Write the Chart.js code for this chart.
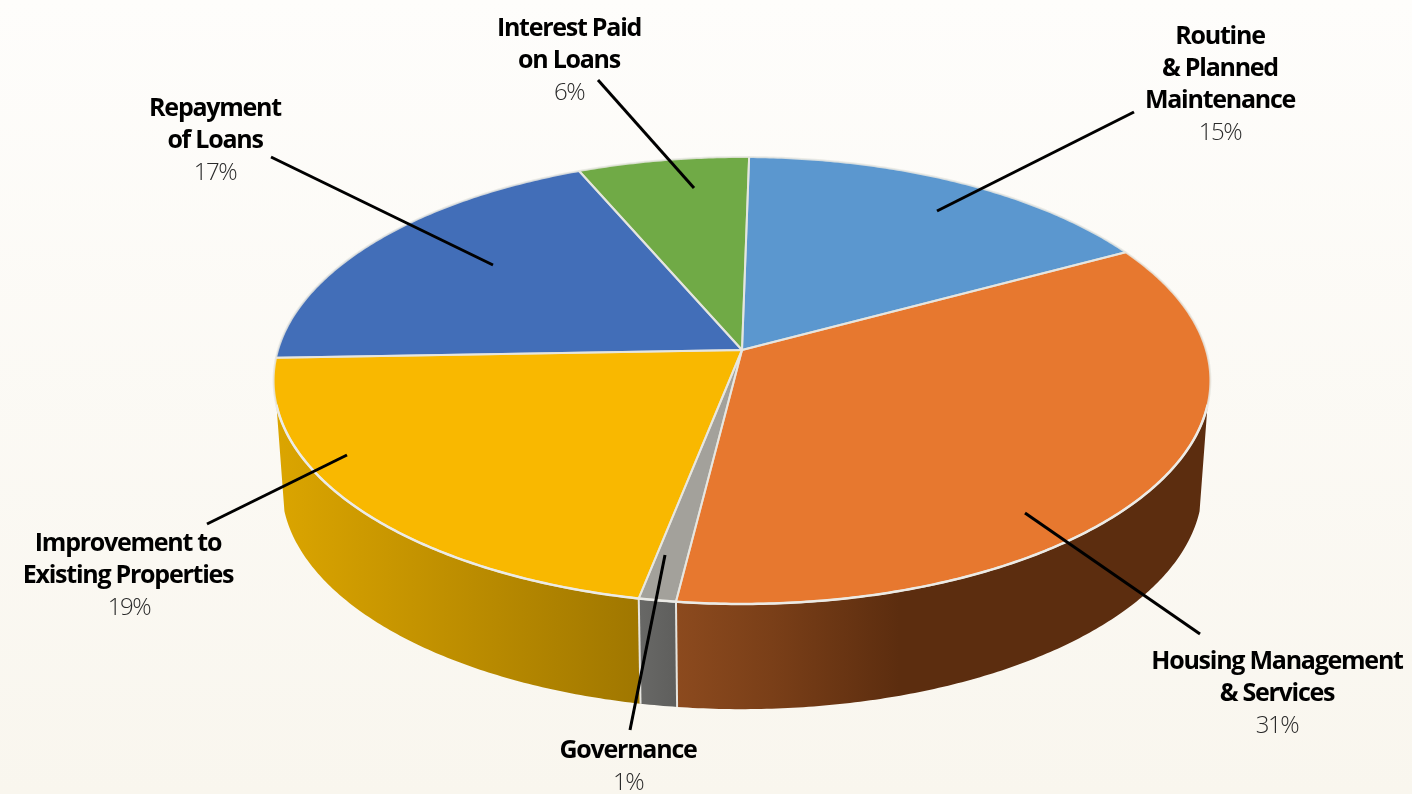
<!DOCTYPE html>
<html>
<head>
<meta charset="utf-8">
<title>Expenditure</title>
<script src="https://cdn.jsdelivr.net/npm/chart.js@4/dist/chart.umd.js"></script>
<style>
    html, body { margin: 0; padding: 0; width: 1412px; height: 794px; overflow: hidden; }
    body { background: linear-gradient(#fefdfb, #f9f6ee); }
    canvas { display: block; }
</style>
</head>
<body>
<canvas id="graficoPizza" width="1412" height="794"></canvas>
<script>
const categories = ['Routine & Planned Maintenance', 'Housing Management & Services', 'Governance',
    'Improvement to Existing Properties', 'Repayment of Loans', 'Interest Paid on Loans'];
const percentages = [15, 31, 1, 19, 17, 6];
const topColors = ['#5b97cf', '#e7782f', '#a3a19b', '#f9b800', '#426eb8', '#70aa46'];

// wall shades, left edge of the wall to right edge
const wallColors = [
    ['#5c2d0f', '#5c2d0f'],
    [[0, '#8c4a1e'], [0.18, '#7a3f18'], [0.42, '#5c2d0f'], [1, '#5c2d0f']],
    ['#686866', '#5f5f5d'],
    ['#dba500', '#a07700'],
    ['#426eb8', '#426eb8'],
    ['#70aa46', '#70aa46']
];

// label lines, x centre, first baseline
const labelLines = [
    ['Routine', '& Planned', 'Maintenance'],
    ['Housing Management', '& Services'],
    ['Governance'],
    ['Improvement to', 'Existing Properties'],
    ['Repayment', 'of Loans'],
    ['Interest Paid', 'on Loans']
];
const labelX = [1220, 1277, 628, 128, 215, 569];
const labelY = [44, 668.5, 758, 551, 116, 36];

// leader lines: x1, y1, x2, y2
const leaders = [
    [1134, 112, 937, 211],
    [1200, 634, 1025, 513],
    [630, 730, 665, 555],
    [207, 524, 347, 455],
    [271, 157, 493, 265],
    [598, 80, 694, 188]
];

// perspective of the disc: k tilts it, top face and lower rim have their own size
const k = -0.1365;
const faceTop = { cx: 742, cy: 350, a: 464, b: 219.3 };
const faceBottom = { cx: 742, cy: 456.7, a: 456, b: 218 };
const wallFrom = 104 * Math.PI / 180;
const wallTo = 256 * Math.PI / 180;

function projeta(face, ang) {
    // ang comes from the arc element, measured from 3 o'clock
    const t = ang + Math.PI / 2;
    const u = Math.sin(t);
    const v = -Math.cos(t);
    const d = 1 + k * v;
    return { x: face.cx + face.a * u / d, y: face.cy + face.b * v / d };
}

function traca(ctx, face, a0, a1, first) {
    const n = Math.max(2, Math.ceil(Math.abs(a1 - a0) / 0.01));
    for (let i = 0; i <= n; i++) {
        const p = projeta(face, a0 + (a1 - a0) * i / n);
        if (i === 0 && first) ctx.moveTo(p.x, p.y);
        else ctx.lineTo(p.x, p.y);
    }
}

const disco3d = {
    id: 'disco3d',
    beforeDatasetsDraw(chart) {
        const ctx = chart.ctx;
        const arcs = chart.getDatasetMeta(0).data;
        const from = wallFrom - Math.PI / 2;
        const to = wallTo - Math.PI / 2;
        ctx.save();
        ctx.lineJoin = 'round';

        // side wall of each slice that faces front
        arcs.forEach((arc, i) => {
            const a0 = Math.max(arc.startAngle, from);
            const a1 = Math.min(arc.endAngle, to);
            if (a1 <= a0) return;
            const pStart = projeta(faceTop, a0);
            const pEnd = projeta(faceTop, a1);
            const x0 = Math.min(pStart.x, pEnd.x);
            const x1 = Math.max(pStart.x, pEnd.x);
            const grad = ctx.createLinearGradient(x0, 0, x1, 0);
            const stops = wallColors[i];
            if (Array.isArray(stops[0])) stops.forEach(s => grad.addColorStop(s[0], s[1]));
            else { grad.addColorStop(0, stops[0]); grad.addColorStop(1, stops[1]); }

            ctx.beginPath();
            traca(ctx, faceTop, a0, a1, true);
            traca(ctx, faceBottom, a1, a0, false);
            ctx.closePath();
            ctx.fillStyle = grad;
            ctx.fill();

            // light seams between the front walls
            ctx.strokeStyle = '#e6e5e0';
            ctx.lineWidth = 2;
            if (a0 > from) {
                const b = projeta(faceBottom, a0);
                ctx.beginPath();
                ctx.moveTo(pStart.x, pStart.y);
                ctx.lineTo(b.x, b.y);
                ctx.stroke();
            }
        });

        // top faces
        arcs.forEach(arc => {
            ctx.beginPath();
            ctx.moveTo(faceTop.cx, faceTop.cy);
            traca(ctx, faceTop, arc.startAngle, arc.endAngle, false);
            ctx.closePath();
            ctx.fillStyle = arc.options.backgroundColor;
            ctx.fill();
        });
        arcs.forEach(arc => {
            ctx.beginPath();
            ctx.moveTo(faceTop.cx, faceTop.cy);
            traca(ctx, faceTop, arc.startAngle, arc.endAngle, false);
            ctx.closePath();
            ctx.strokeStyle = 'rgba(232,231,226,0.85)';
            ctx.lineWidth = 2;
            ctx.stroke();
        });

        // brighter rim along the front
        ctx.beginPath();
        traca(ctx, faceTop, from, to, true);
        ctx.strokeStyle = '#ecebe6';
        ctx.lineWidth = 2.5;
        ctx.stroke();
        ctx.restore();
        return false;
    },
    afterDraw(chart) {
        const ctx = chart.ctx;
        ctx.save();
        ctx.strokeStyle = '#000';
        ctx.lineWidth = 3;
        leaders.forEach(l => {
            ctx.beginPath();
            ctx.moveTo(l[0], l[1]);
            ctx.lineTo(l[2], l[3]);
            ctx.stroke();
        });

        ctx.textAlign = 'center';
        ctx.textBaseline = 'alphabetic';
        labelLines.forEach((lines, i) => {
            ctx.font = 'bold 25px "Open Sans"';
            ctx.letterSpacing = '-1.25px';
            ctx.fillStyle = '#000';
            lines.forEach((txt, j) => ctx.fillText(txt, labelX[i], labelY[i] + j * 32));
            ctx.font = '300 24px "Open Sans"';
            ctx.letterSpacing = '-1.5px';
            ctx.fillStyle = '#2a2a2a';
            ctx.fillText(percentages[i] + '%', labelX[i] + (i === 3 ? 1 : 0), labelY[i] + lines.length * 32);
        });
        ctx.restore();
    }
};

new Chart(document.getElementById('graficoPizza').getContext('2d'), {
    type: 'pie',
    data: {
        labels: categories,
        datasets: [{
            data: percentages,
            backgroundColor: topColors,
            borderWidth: 0
        }]
    },
    options: {
        responsive: false,
        animation: false,
        rotation: 1,
        plugins: {
            legend: { display: false },
            tooltip: { enabled: false }
        }
    },
    plugins: [disco3d]
});
</script>
</body>
</html>
